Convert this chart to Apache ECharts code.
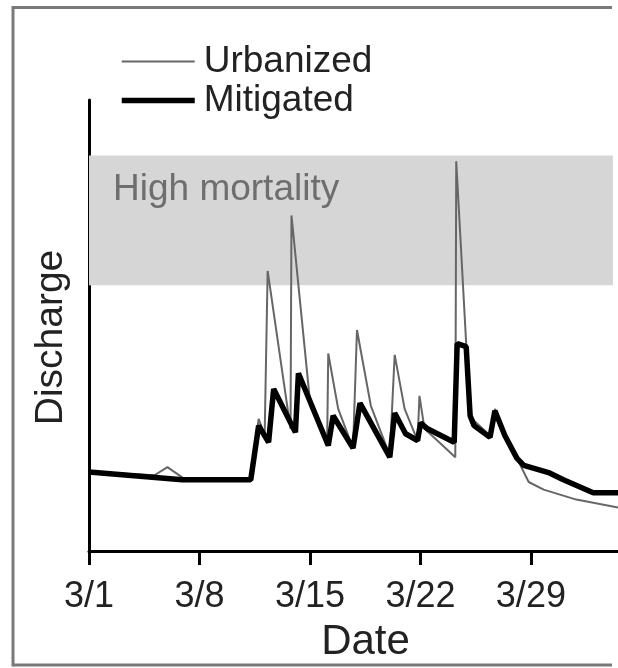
<!DOCTYPE html>
<html>
<head>
    <meta charset="utf-8">
    <title>Discharge</title>
    <script src="https://cdn.jsdelivr.net/npm/echarts@6/dist/echarts.min.js"></script>
    <style>
        html, body { margin: 0; padding: 0; background: #fff; overflow: hidden; }
    </style>
</head>
<body>
<div id="main" style="width: 618px;height: 668px;"></div>
<script>
    // day of March (fractional), discharge in arbitrary units
    var urbanizedDays = [1, 5.15, 5.97, 7.04, 11.25, 11.75, 12.13, 12.32, 13.77, 13.83, 15.03, 16.09, 16.16, 16.79, 17.73,
        17.98, 18.86, 20.06, 20.37, 21.0, 21.82, 21.94, 22.26, 22.95, 24.21, 24.27, 25.15, 25.4, 26.41, 26.72,
        27.35, 28.11, 28.86, 29.81, 31.88, 34.6];
    var urbanizedFlow = [17.5, 16.8, 18.6, 16.0, 15.8, 29.3, 25.6, 62.1, 27.1, 74.4, 32.2, 24.1, 43.8, 31.5, 22.8,
        49.0, 32.2, 21.2, 43.5, 31.5, 24.5, 34.4, 27.1, 24.9, 20.8, 86.4, 30.0, 28.9, 25.6, 31.5,
        25.6, 20.6, 15.3, 13.6, 11.4, 9.6];

    var mitigatedDays = [1, 6.91, 11.25, 11.75, 12.38, 12.7, 14.08, 14.27, 16.16, 16.47, 17.73, 18.17, 20.06, 20.37,
        21.06, 21.82, 22.01, 22.45, 24.14, 24.33, 24.9, 25.15, 25.4, 26.41, 26.72, 27.35, 28.11, 28.55,
        30.18, 31.06, 32.95, 34.6];
    var mitigatedFlow = [17.5, 15.8, 15.8, 27.8, 24.1, 35.9, 26.3, 39.4, 23.4, 30.0, 22.8, 32.8, 20.8, 30.6,
        26.0, 24.5, 28.4, 27.1, 24.1, 46.0, 45.3, 30.0, 27.8, 25.2, 31.1, 25.6, 20.6, 19.0,
        17.3, 15.8, 12.9, 12.9];

    var tickDays = [1, 8, 15, 22, 29];
    var tickLabels = ['3/1', '3/8', '3/15', '3/22', '3/29'];

    // high mortality band (discharge range)
    var mortalityBand = [58.9, 87.7];

    var font = 'Liberation Sans, Arial, sans-serif';

    function pairs(xs, ys) {
        return xs.map(function (x, i) { return [x, ys[i]]; });
    }

    // frame edges (the right side is cut off in the original)
    function frameLine(x1, y1, x2, y2) {
        return {
            type: 'line',
            silent: true,
            z: -1,
            shape: { x1: x1, y1: y1, x2: x2, y2: y2 },
            style: { stroke: '#7a7a7a', lineWidth: 3 }
        };
    }

    var myChart = echarts.init(document.getElementById('main'));

    var option = {
        animation: false,
        backgroundColor: '#fff',
        textStyle: { fontFamily: font },
        graphic: [
            frameLine(13, 7.5, 612, 7.5),
            frameLine(13, 6, 13, 666.5),
            frameLine(13, 665, 612, 665)
        ],
        legend: {
            data: [
                { name: 'Urbanized', lineStyle: { width: 2, color: '#666' } },
                { name: 'Mitigated', lineStyle: { width: 5.5, color: '#000' } }
            ],
            orient: 'vertical',
            left: 114,
            top: 37,
            itemWidth: 73,
            itemHeight: 14,
            itemGap: 0,
            itemStyle: { opacity: 0 },
            textStyle: {
                fontFamily: font,
                fontSize: 37,
                color: '#222',
                lineHeight: 39,
                padding: [0, 0, 0, 4]
            }
        },
        grid: {
            left: 89,
            top: 100,
            right: -4,
            bottom: 111
        },
        xAxis: {
            type: 'value',
            min: 1,
            max: 34.52,
            interval: 7,
            name: 'Date',
            nameLocation: 'middle',
            nameGap: 70,
            nameTextStyle: { fontFamily: font, fontSize: 42, color: '#222', padding: [0, 0, 0, 24] },
            splitLine: { show: false },
            axisLine: { lineStyle: { color: '#000', width: 3 } },
            axisTick: { length: 14, lineStyle: { color: '#000', width: 3 } },
            axisLabel: {
                fontFamily: font,
                fontSize: 36,
                color: '#222',
                margin: 28,
                showMaxLabel: false,
                formatter: function (v) {
                    var i = tickDays.indexOf(v);
                    return i < 0 ? '' : tickLabels[i];
                }
            }
        },
        yAxis: {
            type: 'value',
            min: 0,
            max: 100,
            name: 'Discharge',
            nameLocation: 'middle',
            nameRotate: 90,
            nameGap: 18,
            nameTextStyle: { fontFamily: font, fontSize: 39, color: '#222', padding: [0, 24, 0, 0] },
            splitLine: { show: false },
            axisTick: { show: false },
            axisLabel: { show: false },
            axisLine: { show: true, lineStyle: { color: '#000', width: 3 } }
        },
        series: [
            {
                name: 'band',
                type: 'line',
                data: [],
                z: 1,
                markArea: {
                    silent: true,
                    itemStyle: { color: '#d6d6d6' },
                    label: {
                        show: true,
                        position: 'insideTopLeft',
                        distance: 0,
                        offset: [24, 16],
                        fontFamily: font,
                        fontSize: 37,
                        color: '#6e6e6e'
                    },
                    data: [[
                        { name: 'High mortality', xAxis: 1, yAxis: mortalityBand[1] },
                        { xAxis: 34.2, yAxis: mortalityBand[0] }
                    ]]
                }
            },
            {
                name: 'Urbanized',
                type: 'line',
                z: 2,
                symbol: 'none',
                color: '#666',
                lineStyle: { color: '#666', width: 2 },
                data: pairs(urbanizedDays, urbanizedFlow)
            },
            {
                name: 'Mitigated',
                type: 'line',
                z: 3,
                symbol: 'none',
                color: '#000',
                lineStyle: { color: '#000', width: 5.5 },
                data: pairs(mitigatedDays, mitigatedFlow)
            }
        ]
    };

    myChart.setOption(option);
</script>
</body>
</html>
